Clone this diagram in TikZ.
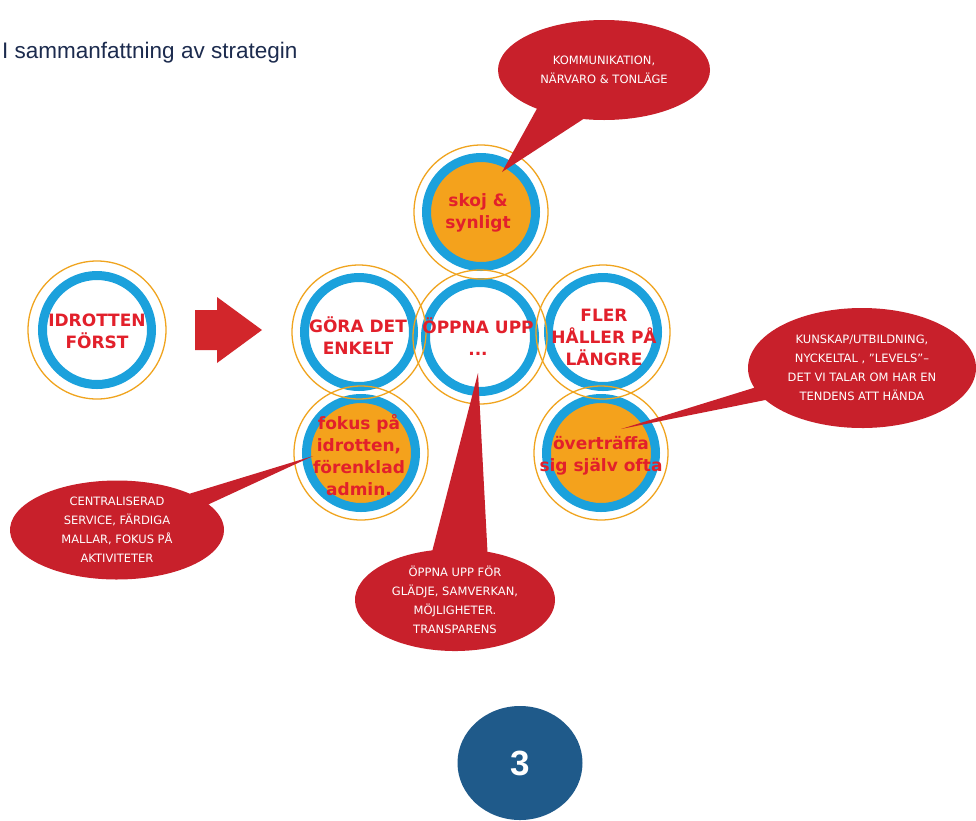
\documentclass[tikz,border=0pt]{standalone}
\usepackage{fontspec}
\setmainfont{DejaVu Sans}
\newfontfamily\titlefont{Liberation Sans}
\usetikzlibrary{shapes.geometric,shapes.callouts}
\definecolor{ringblue}{HTML}{1BA1DC}
\definecolor{ringorange}{HTML}{F0A41E}
\definecolor{fillorange}{HTML}{F4A21C}
\definecolor{txtred}{HTML}{E2202B}
\definecolor{callred}{HTML}{C8202B}
\definecolor{arrowred}{HTML}{D2262B}
\definecolor{numblue}{HTML}{1F5A8A}
\definecolor{titleblue}{HTML}{1C2B4E}
\tikzset{
  ring/.style={circle, draw=ringblue, line width=9pt, minimum size=109pt, inner sep=0pt, fill=white},
  ringfill/.style={ring, fill=fillorange},
  thinring/.style={draw=ringorange, line width=1.3pt},
  ctext/.style={text=txtred, font=\bfseries\fontsize{17}{22}\selectfont, align=center, inner sep=0pt},
  bubble/.style={ellipse callout, fill=callred, text=white, font=\fontsize{11.5}{19}\selectfont, align=center, inner sep=0pt},
}
\begin{document}
\begin{tikzpicture}[x=1pt,y=-1pt]
\fill[white] (0,0) rectangle (976,820);
\useasboundingbox (0,0) rectangle (976,820);

% title
\node[anchor=base west, font=\titlefont\fontsize{22.5}{27}\selectfont, text=titleblue, inner sep=0pt] (title) at (2,58) {I sammanfattning av strategin};

% circles
\node[ring] (idr) at (97,330) {};
\node[ringfill] (skoj) at (481,212) {};
\node[ring] (gora) at (359,332) {};
\node[ring] (fler) at (603,332) {};
\node[ringfill] (fokus) at (361,453) {};
\node[ringfill] (over) at (601,453) {};
\node[ring] (oppna) at (480,337) {};

\foreach \c/\r in {idr/69, skoj/67, gora/67, fler/67, fokus/67, over/67, oppna/67}
  \draw[thinring] (\c.center) circle[radius=\r];

% circle texts
\node[ctext] (tidr) at (97,331) {IDROTTEN\\FÖRST};
\node[ctext] (tskoj) at (478,213) {skoj \&\\synligt};
\node[ctext] (tgora) at (358,336) {GÖRA DET\\ENKELT};
\node[ctext] (toppna) at (478,337) {ÖPPNA UPP\\...};
\node[ctext] (tfler) at (604,337) {FLER\\HÅLLER PÅ\\LÄNGRE};
\node[ctext] (tfokus) at (359,455) {fokus på\\idrotten,\\förenklad\\admin.};
\node[ctext] (tover) at (601,456) {överträffa\\sig själv ofta};

% block arrow
\fill[arrowred] (195,310) -- (217,310) -- (217,297) -- (262,330) -- (217,363) -- (217,350) -- (195,350) -- cycle;

% callouts
\coordinate (tipTop) at (502,172);
\coordinate (tipRight) at (621,429);
\coordinate (tipLeft) at (313,456);
\coordinate (tipBottom) at (478,373);

\node[bubble, callout absolute pointer={(tipTop)}, callout pointer arc=28, minimum width=212pt, minimum height=100pt] (cTop) at (604,70) {KOMMUNIKATION,\\NÄRVARO \& TONLÄGE};
\node[bubble, callout absolute pointer={(tipRight)}, callout pointer arc=13, minimum width=228pt, minimum height=120pt] (cRight) at (862,368) {KUNSKAP/UTBILDNING,\\NYCKELTAL , "LEVELS"–\\DET VI TALAR OM HAR EN\\TENDENS ATT HÄNDA};
\node[bubble, callout absolute pointer={(tipLeft)}, callout pointer arc=16, minimum width=214pt, minimum height=99pt] (cLeft) at (117,530) {CENTRALISERAD\\SERVICE, FÄRDIGA\\MALLAR, FOKUS PÅ\\AKTIVITETER};
\node[bubble, callout absolute pointer={(tipBottom)}, callout pointer arc=32, minimum width=200pt, minimum height=102pt] (cBottom) at (455,600) {ÖPPNA UPP FÖR\\GLÄDJE, SAMVERKAN,\\MÖJLIGHETER.\\TRANSPARENS};

% number
\node[ellipse, fill=numblue, minimum width=125pt, minimum height=114pt, inner sep=0pt, text=white, font=\titlefont\bfseries\fontsize{35}{40}\selectfont] (num) at (520,763) {3};
\end{tikzpicture}
\end{document}
